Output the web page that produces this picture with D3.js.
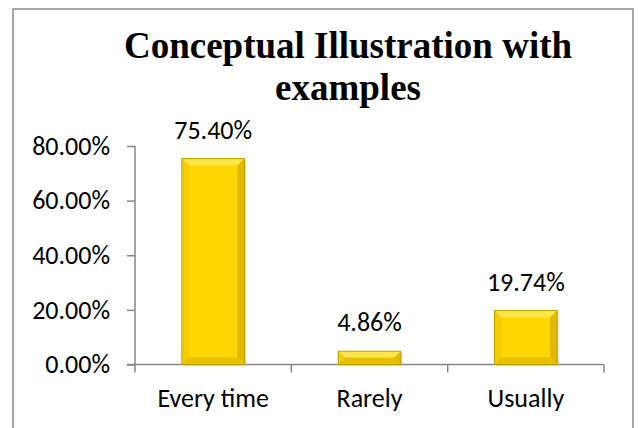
<!DOCTYPE html>
<html>
<head>
<meta charset="utf-8">
<script src="https://cdn.jsdelivr.net/npm/d3@7"></script>
<style>
  body { margin: 0; background: #fff; }
  svg text { fill: #000; }
</style>
</head>
<body>
<script>
// values
const categories = ["Every time", "Rarely", "Usually"];
const values = [75.40, 4.86, 19.74];
const yTicks = [0, 20, 40, 60, 80];
const titleLines = ["Conceptual Illustration with", "examples"];

const width = 639, height = 428;
const font = "Carlito, Lato, 'Open Sans', sans-serif";
const fontSize = "26px";

const svg = d3.select("body").append("svg")
    .attr("width", width)
    .attr("height", height);

// outer chart border (bottom runs past the window)
svg.append("rect")
    .attr("x", 13).attr("y", 9)
    .attr("width", 620).attr("height", 440)
    .attr("fill", "none")
    .attr("stroke", "#8c8c8c")
    .attr("stroke-width", 1.5);

// title
svg.append("g").selectAll("text")
    .data(titleLines)
  .enter().append("text")
    .attr("x", 348)
    .attr("y", function(d, i) { return 58 + i * 42; })
    .attr("text-anchor", "middle")
    .style("font-family", "'Liberation Serif', 'Times New Roman', serif")
    .style("font-weight", "bold")
    .style("font-size", "37px")
    .text(function(d) { return d; });

const x = d3.scaleBand()
    .domain(categories)
    .range([135, 604])
    .paddingInner(0.6)
    .paddingOuter(0.3);

const y = d3.scaleLinear()
    .domain([0, 80])
    .range([364.5, 146]);

// y axis
const yAxis = svg.append("g")
    .attr("transform", "translate(135,0)")
    .call(d3.axisLeft(y).tickValues(yTicks).tickSize(8).tickPadding(17)
      .tickFormat(function(d) { return d.toFixed(2) + "%"; }));
yAxis.selectAll("path, line").attr("stroke", "#868686").attr("stroke-width", 1.5);
yAxis.select(".domain").attr("d", "M0," + y(80) + "V" + y(0));
yAxis.selectAll("text")
    .style("font-family", font)
    .style("font-size", fontSize)
    .attr("fill", "#000");

// x axis: ticks on the category boundaries
const step = x.step();
const xEdges = [135].concat(categories.map(function(c) { return x(c) + x.bandwidth() + step * x.paddingInner() / 2 + (c === categories[categories.length - 1] ? step * (x.paddingOuter() - x.paddingInner() / 2) : 0); }));
const xAxis = svg.append("g");
xAxis.append("line")
    .attr("x1", 127).attr("x2", 604)
    .attr("y1", y(0)).attr("y2", y(0))
    .attr("stroke", "#868686").attr("stroke-width", 1.5);
xAxis.selectAll(".tick")
    .data(xEdges)
  .enter().append("line")
    .attr("x1", function(d) { return d; })
    .attr("x2", function(d) { return d; })
    .attr("y1", y(0)).attr("y2", y(0) + 8)
    .attr("stroke", "#868686").attr("stroke-width", 1.5);
xAxis.selectAll("text")
    .data(categories)
  .enter().append("text")
    .attr("x", function(d) { return x(d) + x.bandwidth() / 2; })
    .attr("y", 407)
    .attr("text-anchor", "middle")
    .style("font-family", font)
    .style("font-size", fontSize)
    .text(function(d) { return d; });

// bevelled gold bars
const bars = svg.append("g").selectAll("g")
    .data(values)
  .enter().append("g");

function pieces(d, i) {
  const x0 = x(categories[i]), x1 = x0 + x.bandwidth();
  const y0 = y(d), y1 = y(0);
  const b = Math.min(7, (y1 - y0) / 2, (x1 - x0) / 2);
  return [
    { c: "#ffd700", p: [[x0, y0], [x1, y0], [x1, y1], [x0, y1]] },
    { c: "#ffe54a", p: [[x0, y0], [x1, y0], [x1 - b, y0 + b], [x0 + b, y0 + b]] },
    { c: "#f5cc00", p: [[x0, y0], [x0 + b, y0 + b], [x0 + b, y1 - b], [x0, y1]] },
    { c: "#e3b900", p: [[x1, y0], [x1 - b, y0 + b], [x1 - b, y1 - b], [x1, y1]] },
    { c: "#e8c000", p: [[x0, y1], [x0 + b, y1 - b], [x1 - b, y1 - b], [x1, y1]] }
  ];
}

// soft shadow
bars.append("rect")
    .attr("x", function(d, i) { return x(categories[i]) + 1.5; })
    .attr("y", function(d) { return y(d) + 1.5; })
    .attr("width", x.bandwidth())
    .attr("height", function(d) { return y(0) - y(d); })
    .attr("fill", "#bbb")
    .attr("opacity", 0.6);

bars.selectAll("polygon")
    .data(function(d, i) { return pieces(d, i); })
  .enter().append("polygon")
    .attr("points", function(s) { return s.p.join(" "); })
    .attr("fill", function(s) { return s.c; });

bars.append("rect")
    .attr("x", function(d, i) { return x(categories[i]); })
    .attr("y", function(d) { return y(d); })
    .attr("width", x.bandwidth())
    .attr("height", function(d) { return y(0) - y(d); })
    .attr("fill", "none")
    .attr("stroke", "#c49d00")
    .attr("stroke-width", 1);

// data labels
bars.append("text")
    .attr("x", function(d, i) { return x(categories[i]) + x.bandwidth() / 2; })
    .attr("y", function(d) { return y(d) - 20; })
    .attr("text-anchor", "middle")
    .style("font-family", font)
    .style("font-size", fontSize)
    .text(function(d) { return d.toFixed(2) + "%"; });
</script>
</body>
</html>
